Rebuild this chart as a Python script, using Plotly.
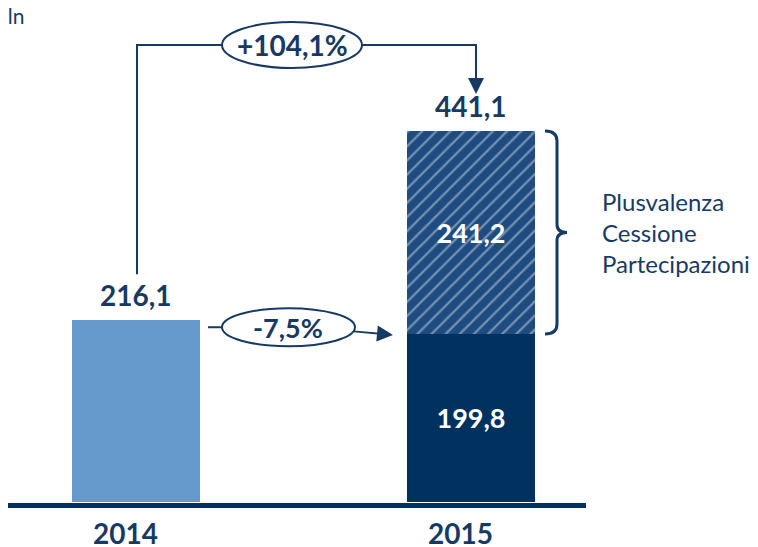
import plotly.graph_objects as go

# ─── Data ────────────────────────────────────────────────────────────────────
YEARS = ["2014", "2015"]
TOTAL_2014 = 216.1
RECURRING_2015 = 199.8
CAPITAL_GAIN_2015 = 241.2
TOTAL_2015 = 441.1
BRACKET_LABEL = "Plusvalenza<br>Cessione<br>Partecipazioni"
UNIT_LABEL = "€ mln"

# ─── Style ───────────────────────────────────────────────────────────────────
NAVY = "#00315F"
TEXT = "#173A64"
LIGHT = "#6699CC"
HATCH_BG = "#1F4C80"
HATCH_FG = "#C9D6E6"
FONT = "Lato"

W, H = 758, 547
PAD = 8                              # page body margin
BASE_PX, TOP_PX = 502, 131          # pixel rows of y=0 and of the 2015 total
K = TOTAL_2015 / (BASE_PX - TOP_PX)  # data units per pixel


def x_at(px):
    return (px - 136) / 335


def y_at(py):
    return (BASE_PX - py) * K


def py_of(v):
    return BASE_PX - v / K


def it(v):
    return f"{v:.1f}".replace(".", ",")


growth_total = (TOTAL_2015 / TOTAL_2014 - 1) * 100
growth_rec = (RECURRING_2015 / TOTAL_2014 - 1) * 100

fig = go.Figure()
bar_w = 128 / 335
inside_font = dict(family=FONT, size=27, color="white")

fig.add_trace(go.Bar(x=[0], y=[TOTAL_2014], width=bar_w, marker_color=LIGHT,
                     marker_line_width=0, hoverinfo="skip"))
fig.add_trace(go.Bar(x=[1], y=[RECURRING_2015], width=bar_w, marker_color=NAVY,
                     marker_line_width=0, texttemplate="<b>%{y:.1f}</b>",
                     textposition="inside", insidetextanchor="middle",
                     textfont=inside_font, hoverinfo="skip"))
fig.add_trace(go.Bar(x=[1], y=[CAPITAL_GAIN_2015], width=bar_w,
                     marker=dict(color=HATCH_BG, line_width=0,
                                 pattern=dict(shape="/", bgcolor=HATCH_BG, fgcolor=HATCH_FG,
                                              size=10, solidity=0.22, fillmode="overlay")),
                     texttemplate="<b>%{y:.1f}</b>", textposition="inside",
                     insidetextanchor="middle", textfont=inside_font, hoverinfo="skip"))

shapes = []
annotations = []

# baseline
shapes.append(dict(type="line", xref="x", yref="y", x0=x_at(8), x1=x_at(586),
                   y0=y_at(505.5), y1=y_at(505.5), line=dict(color=NAVY, width=5)))

# value labels above bars
for xv, v in [(0, TOTAL_2014), (1, TOTAL_2015)]:
    annotations.append(dict(x=xv, y=v, text=f"<b>{it(v)}</b>", showarrow=False,
                            yanchor="bottom", yshift=6, font=dict(family=FONT, size=28, color=TEXT)))

# year labels
for xv, lab in enumerate(YEARS):
    annotations.append(dict(x=xv - 0.03, y=y_at(533), text=f"<b>{lab}</b>", showarrow=False,
                            font=dict(family=FONT, size=28, color=TEXT)))

# top connector: 2014 -> 2015 total
top_py = 45
lbl_top = py_of(TOTAL_2014) - 46
shapes.append(dict(type="path", xref="x", yref="y", line=dict(color=TEXT, width=2),
                   path=f"M {x_at(137)},{y_at(lbl_top)} L {x_at(137)},{y_at(top_py)} "
                        f"L {x_at(476)},{y_at(top_py)} L {x_at(476)},{y_at(85)}"))
annotations.append(dict(x=x_at(476), y=y_at(94), ax=x_at(476), ay=y_at(80), axref="x", ayref="y",
                        text="", showarrow=True, arrowhead=2, arrowsize=1.6, arrowwidth=2,
                        arrowcolor=TEXT))
shapes.append(dict(type="circle", xref="x", yref="y", x0=x_at(222), x1=x_at(362),
                   y0=y_at(22), y1=y_at(68), fillcolor="white", line=dict(color=TEXT, width=2)))
annotations.append(dict(x=x_at(292), y=y_at(45), text=f"<b>{growth_total:+.1f}%</b>".replace(".", ","),
                        showarrow=False, font=dict(family=FONT, size=28, color=TEXT)))

# lower connector: 2014 -> 2015 recurring
mid_py = py_of(TOTAL_2014) + 7
end_py = py_of(RECURRING_2015) + 1
shapes.append(dict(type="line", xref="x", yref="y", x0=x_at(208), x1=x_at(226),
                   y0=y_at(mid_py), y1=y_at(mid_py), line=dict(color=TEXT, width=2)))
annotations.append(dict(x=x_at(393), y=y_at(end_py), ax=x_at(352), ay=y_at(mid_py + 4),
                        axref="x", ayref="y", text="", showarrow=True, arrowhead=2,
                        arrowsize=1.6, arrowwidth=2, arrowcolor=TEXT))
shapes.append(dict(type="circle", xref="x", yref="y", x0=x_at(222), x1=x_at(355),
                   y0=y_at(mid_py - 19), y1=y_at(mid_py + 19), fillcolor="white",
                   line=dict(color=TEXT, width=2)))
annotations.append(dict(x=x_at(288), y=y_at(mid_py), text=f"<b>{growth_rec:.1f}%</b>".replace(".", ","),
                        showarrow=False, font=dict(family=FONT, size=27, color=TEXT)))

# bracket for capital gain segment
b_top = py_of(TOTAL_2015)
b_bot = py_of(RECURRING_2015)
b_mid = (b_top + b_bot) / 2
pts = [("M", 545, b_top), ("Q", 557, b_top), ("", 557, b_top + 10), ("L", 557, b_mid - 8),
       ("Q", 557, b_mid), ("", 567, b_mid), ("Q", 557, b_mid), ("", 557, b_mid + 8),
       ("L", 557, b_bot - 10), ("Q", 557, b_bot), ("", 545, b_bot)]
path = " ".join(f"{c} {x_at(px)},{y_at(py)}".strip() for c, px, py in pts)
shapes.append(dict(type="path", xref="x", yref="y", path=path, line=dict(color=TEXT, width=3)))
annotations.append(dict(x=x_at(600), y=y_at(b_mid), text=BRACKET_LABEL, showarrow=False,
                        xanchor="left", align="left",
                        font=dict(family=FONT, size=24, color=TEXT)))

# unit label (cut at the left edge)
annotations.append(dict(x=x_at(27), y=y_at(15), text=UNIT_LABEL, showarrow=False, xanchor="right",
                        font=dict(family=FONT, size=21, color=TEXT)))

fig.update_layout(
    width=W - PAD, height=H - PAD, barmode="stack", showlegend=False, separators=",.",
    paper_bgcolor="white", plot_bgcolor="white",
    margin=dict(l=0, r=0, t=0, b=0),
    xaxis=dict(range=[x_at(PAD), x_at(W)], visible=False, fixedrange=True),
    yaxis=dict(range=[y_at(H), y_at(PAD)], visible=False, fixedrange=True),
    shapes=shapes, annotations=annotations,
)

fig.write_html("out.html", config={"displayModeBar": False})
